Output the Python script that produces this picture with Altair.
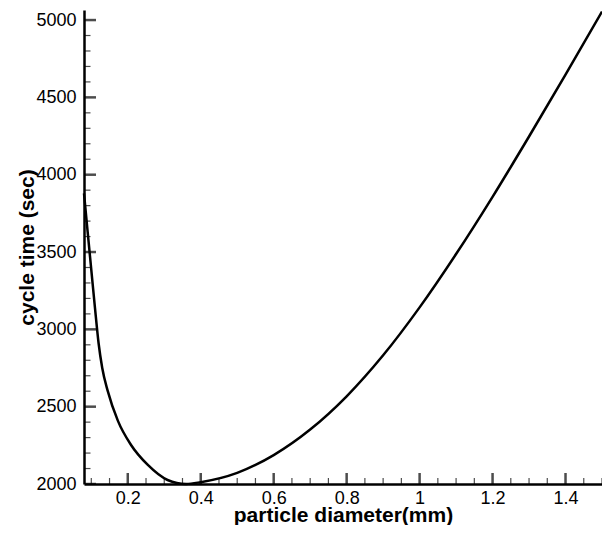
import altair as alt
import pandas as pd

# Curve
diameter = [0.08, 0.09, 0.1, 0.11, 0.12, 0.13, 0.145, 0.173, 0.209, 0.255,
            0.309, 0.36, 0.4, 0.5, 0.6, 0.7, 0.8, 0.9, 1.0, 1.1,
            1.2, 1.3, 1.4, 1.5]
cycle_time = [3880, 3630, 3385, 3140, 2910, 2750, 2602, 2408, 2252, 2123,
              2026, 2000, 2012, 2072, 2187, 2352, 2567, 2832, 3142, 3487,
              3857, 4247, 4647, 5055]

# Axis tick values
x_major = [0.2, 0.4, 0.6, 0.8, 1.0, 1.2, 1.4]
x_minor = [0.1, 0.15, 0.25, 0.3, 0.35, 0.45, 0.5, 0.55, 0.65, 0.7, 0.75,
           0.85, 0.9, 0.95, 1.05, 1.1, 1.15, 1.25, 1.3, 1.35, 1.45, 1.5]
y_major = [2000, 2500, 3000, 3500, 4000, 4500, 5000]
y_minor = [2100, 2200, 2300, 2400, 2600, 2700, 2800, 2900, 3100, 3200, 3300,
           3400, 3600, 3700, 3800, 3900, 4100, 4200, 4300, 4400, 4600, 4700,
           4800, 4900]

x_domain = [0.08, 1.5]
y_domain = [2000, 5065]

curve = pd.DataFrame({"d": diameter, "t": cycle_time})

xs = alt.Scale(domain=x_domain, nice=False, zero=False)
ys = alt.Scale(domain=y_domain, nice=False, zero=False)

line = alt.Chart(curve).mark_line(color="black", strokeWidth=2.5, interpolate="monotone").encode(
    x=alt.X("d:Q", scale=xs, axis=alt.Axis(
        title="particle diameter(mm)", values=x_major, format="~g",
        ticks=False, tickSize=0, labelPadding=19, labelBaseline="alphabetic",
        labelFlush=False, titleY=37, titleBaseline="alphabetic",
    )),
    y=alt.Y("t:Q", scale=ys, axis=alt.Axis(
        title="cycle time (sec)", values=y_major, format="d",
        ticks=False, tickSize=0, labelPadding=8, labelFlush=False,
        titleX=-51, titleY=237, titleBaseline="alphabetic", titleAngle=-90,
    )),
    order=alt.Order("d:Q"),
)

def xticks(vals, size, thick):
    return alt.Chart(pd.DataFrame({"v": vals})).mark_tick(
        orient="vertical", size=size, thickness=thick, color="black", clip=True
    ).encode(
        x=alt.X("v:Q", scale=xs),
        y=alt.YDatum(2000, scale=ys),
    )

def yticks(vals, size, thick):
    return alt.Chart(pd.DataFrame({"v": vals})).mark_tick(
        orient="horizontal", size=size, thickness=thick, color="black", clip=True
    ).encode(
        y=alt.Y("v:Q", scale=ys),
        x=alt.XDatum(0.08, scale=xs),
    )

chart = alt.layer(
    line,
    xticks(x_major, 22, 2.5),
    xticks(x_minor, 12, 1.2),
    yticks(y_major, 24, 2.5),
    yticks(y_minor, 13, 1.2),
).properties(
    width=518, height=474,
    autosize="none",
    padding={"left": 76, "top": 2, "right": 0, "bottom": 41},
    background="white",
).configure_view(stroke=None).configure_axis(
    labelFont="Liberation Sans", labelFontSize=18, labelColor="black",
    titleFont="Liberation Sans", titleFontSize=21, titleFontWeight="bold", titleColor="black",
    domainColor="black", domainWidth=2.5, grid=False,
)

chart.save("out.html", embed_options={"renderer": "svg", "actions": False})
